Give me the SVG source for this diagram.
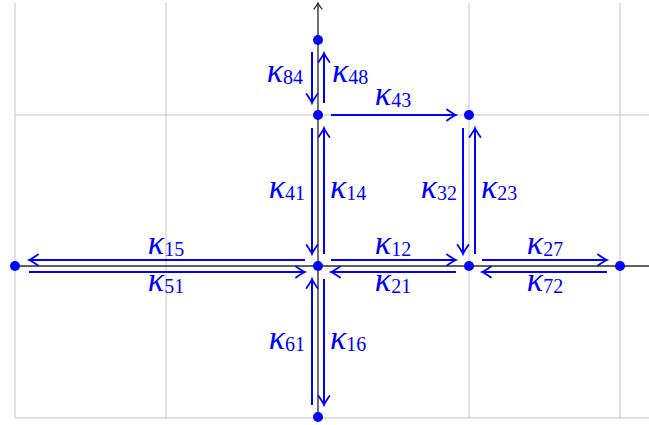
<svg xmlns="http://www.w3.org/2000/svg" width="649" height="425" viewBox="0 0 649 425">
<style>
.grid{stroke:#c4c4c4;stroke-width:1;fill:none}
.axis{stroke:#333;stroke-width:1.3;fill:none}
.arr{stroke:#0000ff;stroke-width:2;fill:none;marker-end:url(#ah)}
.node{fill:#0000ff}
text{fill:#0000ff;font-family:"Liberation Serif","DejaVu Serif",serif}
.k{font-style:italic;font-size:34px}
.s{font-size:20px}
</style>
<defs>
<marker id="ah" markerUnits="userSpaceOnUse" viewBox="-10 -6 12 12" refX="0" refY="0" markerWidth="12" markerHeight="12" orient="auto" overflow="visible">
<path d="M-9,-5.5 Q-3,-1.2 0,0 Q-3,1.2 -9,5.5" stroke="#0000ff" stroke-width="1.8" fill="none" stroke-linecap="round"/>
</marker>
<marker id="ax" markerUnits="userSpaceOnUse" viewBox="-10 -6 12 12" refX="0" refY="0" markerWidth="12" markerHeight="12" orient="auto" overflow="visible">
<path d="M-6,-4 Q-2.5,-1 0,0 Q-2.5,1 -6,4" stroke="#333" stroke-width="1.2" fill="none" stroke-linecap="round"/>
</marker>
</defs>
<g id="grid">
<path class="grid" d="M15,3V418M166,3V418M318,3V418M469,3V418M620,3V418M15,115H649M15,266H649M15,418H649"/>
</g>
<g id="axes">
<line class="axis" x1="15" y1="266" x2="649" y2="266"/>
<line class="axis" x1="318" y1="417" x2="318" y2="3" marker-end="url(#ax)"/>
</g>
<g id="connectors">
<line class="arr" x1="312" y1="52" x2="312" y2="103"/>
<line class="arr" x1="324" y1="103" x2="324" y2="53"/>
<line class="arr" x1="331" y1="115" x2="456" y2="115"/>
<line class="arr" x1="312" y1="128" x2="312" y2="254"/>
<line class="arr" x1="324" y1="254" x2="324" y2="128"/>
<line class="arr" x1="463" y1="128" x2="463" y2="254"/>
<line class="arr" x1="475" y1="254" x2="475" y2="128"/>
<line class="arr" x1="331" y1="260" x2="456" y2="260"/>
<line class="arr" x1="456" y1="272" x2="331" y2="272"/>
<line class="arr" x1="482" y1="260" x2="607" y2="260"/>
<line class="arr" x1="607" y1="272" x2="482" y2="272"/>
<line class="arr" x1="305" y1="260" x2="29" y2="260"/>
<line class="arr" x1="29" y1="272" x2="305" y2="272"/>
<line class="arr" x1="312" y1="405" x2="312" y2="279"/>
<line class="arr" x1="324" y1="279" x2="324" y2="405"/>
</g>
<g id="n1"><circle class="node" cx="318" cy="266" r="5"/></g>
<g id="n2"><circle class="node" cx="469" cy="266" r="5"/></g>
<g id="n3"><circle class="node" cx="469" cy="115" r="5"/></g>
<g id="n4"><circle class="node" cx="318" cy="115" r="5"/></g>
<g id="n5"><circle class="node" cx="15" cy="266" r="5"/></g>
<g id="n6"><circle class="node" cx="318" cy="417" r="5"/></g>
<g id="n7"><circle class="node" cx="620" cy="266" r="5"/></g>
<g id="n8"><circle class="node" cx="318" cy="40" r="5"/></g>
<g id="labels">
<text x="303" y="82" text-anchor="end"><tspan class="k">κ</tspan><tspan class="s" dy="2">84</tspan></text>
<text x="332" y="82"><tspan class="k">κ</tspan><tspan class="s" dy="2">48</tspan></text>
<text x="393" y="105" text-anchor="middle"><tspan class="k">κ</tspan><tspan class="s" dy="2">43</tspan></text>
<text x="305" y="198" text-anchor="end"><tspan class="k">κ</tspan><tspan class="s" dy="2">41</tspan></text>
<text x="330" y="198"><tspan class="k">κ</tspan><tspan class="s" dy="2">14</tspan></text>
<text x="457" y="198" text-anchor="end"><tspan class="k">κ</tspan><tspan class="s" dy="2">32</tspan></text>
<text x="481" y="198"><tspan class="k">κ</tspan><tspan class="s" dy="2">23</tspan></text>
<text x="166" y="254" text-anchor="middle"><tspan class="k">κ</tspan><tspan class="s" dy="2">15</tspan></text>
<text x="166" y="291" text-anchor="middle"><tspan class="k">κ</tspan><tspan class="s" dy="2">51</tspan></text>
<text x="393" y="254" text-anchor="middle"><tspan class="k">κ</tspan><tspan class="s" dy="2">12</tspan></text>
<text x="393" y="291" text-anchor="middle"><tspan class="k">κ</tspan><tspan class="s" dy="2">21</tspan></text>
<text x="545" y="254" text-anchor="middle"><tspan class="k">κ</tspan><tspan class="s" dy="2">27</tspan></text>
<text x="545" y="291" text-anchor="middle"><tspan class="k">κ</tspan><tspan class="s" dy="2">72</tspan></text>
<text x="305" y="349" text-anchor="end"><tspan class="k">κ</tspan><tspan class="s" dy="2">61</tspan></text>
<text x="330" y="349"><tspan class="k">κ</tspan><tspan class="s" dy="2">16</tspan></text>
</g>
</svg>
